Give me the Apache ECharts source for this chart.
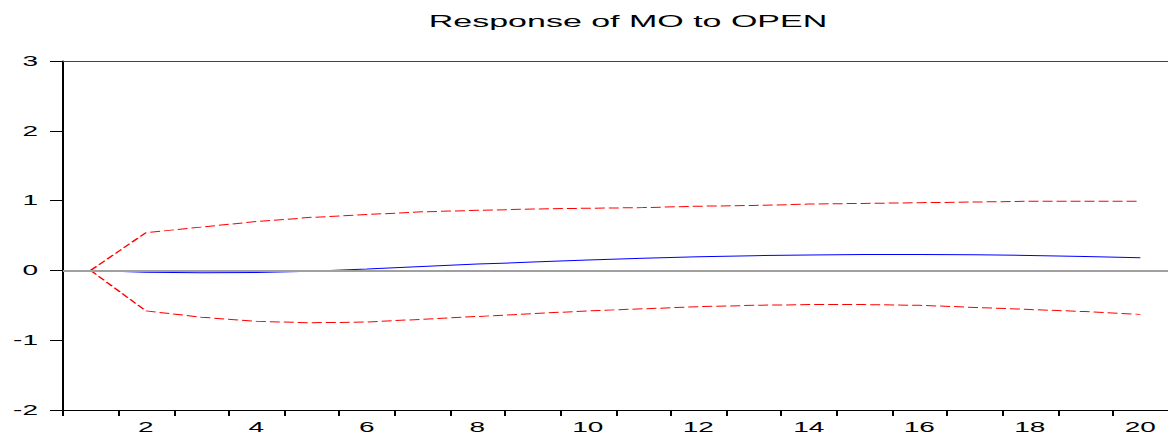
<!DOCTYPE html>
<html>
<head>
<meta charset="utf-8">
<script src="https://cdn.jsdelivr.net/npm/echarts@6/dist/echarts.min.js"></script>
<style>
html,body{margin:0;padding:0;background:#fff;overflow:hidden;}
#wrap{width:1168px;height:434px;overflow:hidden;position:relative;}
#chart{width:584px;height:434px;transform:scaleX(2);transform-origin:0 0;}
</style>
</head>
<body>
<div id="wrap"><div id="chart"></div></div>
<script>
const periods = ['1','2','3','4','5','6','7','8','9','10','11','12','13','14','15','16','17','18','19','20'];
const response = [0, -0.025, -0.035, -0.03, -0.012, 0.02, 0.055, 0.09, 0.12, 0.15, 0.175, 0.195, 0.21, 0.222, 0.228, 0.228, 0.224, 0.215, 0.2, 0.18];
const upperBand = [0, 0.54, 0.62, 0.70, 0.76, 0.80, 0.84, 0.86, 0.88, 0.89, 0.90, 0.92, 0.93, 0.95, 0.96, 0.97, 0.98, 0.99, 0.99, 0.99];
const lowerBand = [0, -0.58, -0.67, -0.73, -0.75, -0.74, -0.70, -0.66, -0.62, -0.58, -0.55, -0.52, -0.50, -0.49, -0.49, -0.50, -0.53, -0.56, -0.59, -0.63];
const yTicks = {min: -2, max: 3, interval: 1};
const titleText = 'Response of MO to OPEN';

const chart = echarts.init(document.getElementById('chart'), null, {renderer: 'svg'});
const font = 'Liberation Sans, Arial, sans-serif';
chart.setOption({
  animation: false,
  backgroundColor: '#fff',
  title: {
    text: titleText,
    left: 309, top: 8, textAlign: 'center',
    textStyle: {fontFamily: font, fontSize: 17, fontWeight: 'normal', color: '#000'}
  },
  grid: {left: 31.5, top: 61, width: 553, height: 350, containLabel: false},
  xAxis: [{
    type: 'category', data: periods, boundaryGap: true, position: 'bottom',
    axisLine: {show: true, onZero: false, lineStyle: {color: '#000', width: 1}},
    axisTick: {show: true, interval: 0, length: 6, lineStyle: {color: '#000', width: 1}},
    axisLabel: {interval: function (i) { return i % 2 === 1; }, fontFamily: font, fontSize: 14, color: '#000', margin: 10},
    splitLine: {show: false}
  }, {
    type: 'category', data: periods, boundaryGap: true, position: 'top',
    axisLine: {show: true, onZero: false, lineStyle: {color: '#444', width: 1}},
    axisTick: {show: false}, axisLabel: {show: false}, splitLine: {show: false}
  }],
  yAxis: {
    type: 'value', min: yTicks.min, max: yTicks.max, interval: yTicks.interval,
    axisLine: {show: true, onZero: false, lineStyle: {color: '#000', width: 1}},
    axisTick: {show: true, length: 6.5, lineStyle: {color: '#000', width: 1}},
    axisLabel: {fontFamily: font, fontSize: 14, color: '#000', margin: 12.5},
    splitLine: {show: false}
  },
  series: [{
    type: 'line', data: [], z: 1,
    markLine: {silent: true, symbol: 'none', label: {show: false},
      lineStyle: {color: '#a0a0a0', width: 2, type: 'solid'},
      data: [{yAxis: 0}]}
  }, {
    type: 'line', data: upperBand, symbol: 'none', z: 3,
    lineStyle: {color: '#ff0000', width: 1, type: [5, 2]}
  }, {
    type: 'line', data: lowerBand, symbol: 'none', z: 3,
    lineStyle: {color: '#ff0000', width: 1, type: [5, 2]}
  }, {
    type: 'line', data: response, symbol: 'none', z: 4,
    lineStyle: {color: '#0000ff', width: 1}
  }]
});
</script>
</body>
</html>
